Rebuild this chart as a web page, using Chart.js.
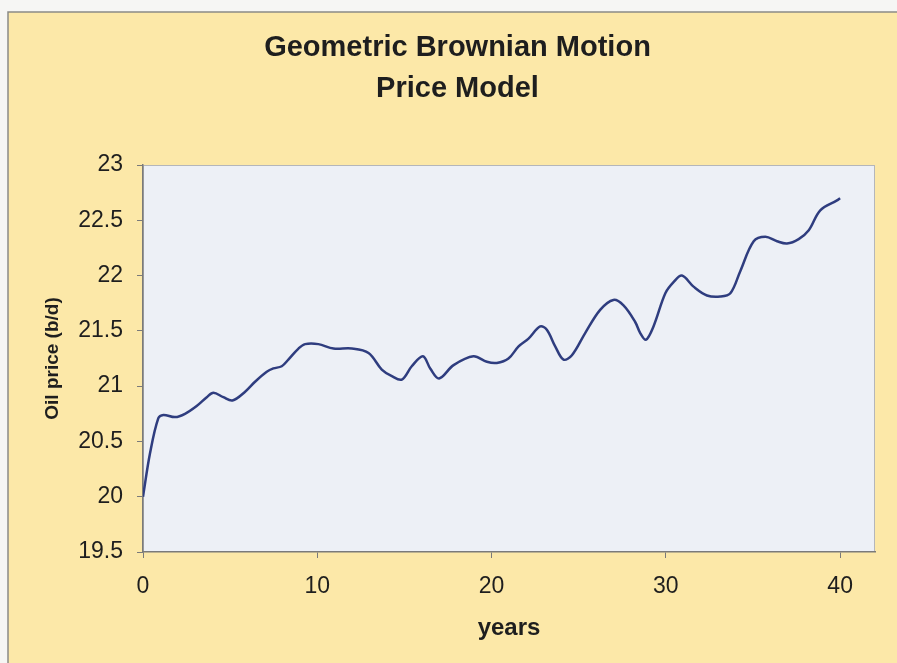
<!DOCTYPE html>
<html>
<head>
<meta charset="utf-8">
<script src="https://cdn.jsdelivr.net/npm/chart.js@4/dist/chart.umd.min.js"></script>
<style>
  html, body { margin: 0; padding: 0; background: #f6f6f4; }
  #c { display: block; }
</style>
</head>
<body>
<canvas id="c" width="897" height="663"></canvas>
<script>
// ---- data ----
const chartTitle = ['Geometric Brownian Motion', 'Price Model'];
const xAxisTitle = 'years';
const yAxisTitle = 'Oil price (b/d)';
const xTickValues = [0, 10, 20, 30, 40];
const yTickValues = [19.5, 20, 20.5, 21, 21.5, 22, 22.5, 23];
const years = [0, 0.4, 0.88, 1.17, 1.84, 2.41, 3.08, 3.66, 4.04, 4.61, 5.13, 5.86, 6.43, 7.10, 7.48, 7.96, 8.34, 8.92, 9.30, 10.06,
  10.93, 11.98, 12.94, 13.70, 14.28, 14.85, 15.42, 16.06, 16.48, 16.99, 17.82, 18.96, 19.73, 20.30, 20.97, 21.55, 22.12, 22.79,
  23.17, 23.65, 24.13, 24.61, 25.37, 26.23, 26.99, 27.57, 28.24, 28.53, 28.86, 29.29, 29.97, 30.44, 30.92, 31.59, 32.36, 33.12,
  33.70, 34.27, 35.04, 35.71, 36.38, 36.95, 37.62, 38.20, 38.86, 39.82, 40];
const prices = [20.0, 20.39, 20.71, 20.74, 20.72, 20.75, 20.82, 20.90, 20.94, 20.90, 20.87, 20.95, 21.04, 21.13, 21.16, 21.18, 21.24, 21.34, 21.38, 21.38,
  21.34, 21.34, 21.30, 21.15, 21.09, 21.06, 21.18, 21.27, 21.16, 21.07, 21.19, 21.27, 21.22, 21.21, 21.25, 21.36, 21.43, 21.54,
  21.51, 21.36, 21.24, 21.28, 21.48, 21.69, 21.78, 21.73, 21.58, 21.48, 21.42, 21.54, 21.84, 21.94, 22.00, 21.90, 21.82, 21.81,
  21.84, 22.04, 22.31, 22.35, 22.31, 22.29, 22.33, 22.41, 22.59, 22.68, 22.70];

const points = years.map((x, i) => ({ x: x, y: prices[i] }));

const bgPlugin = {
  id: 'bgPlugin',
  beforeDraw(chart) {
    const ctx = chart.ctx;
    const W = chart.width, H = chart.height;
    ctx.save();
    ctx.fillStyle = '#f6f6f4';
    ctx.fillRect(0, 0, W, H);
    ctx.fillStyle = '#fce8a8';
    ctx.fillRect(8, 12, W - 8, H - 12);
    ctx.strokeStyle = '#8a8a86';
    ctx.lineWidth = 1.5;
    ctx.beginPath();
    ctx.moveTo(8, H);
    ctx.lineTo(8, 12);
    ctx.lineTo(W, 12);
    ctx.stroke();
    const a = chart.chartArea;
    ctx.fillStyle = '#edf0f6';
    ctx.fillRect(a.left, a.top, a.right - a.left, a.bottom - a.top);
    ctx.strokeStyle = '#b4b6ba';
    ctx.lineWidth = 1;
    ctx.strokeRect(a.left + 0.5, a.top + 0.5, a.right - a.left - 1, a.bottom - a.top - 1);
    ctx.restore();
  }
};

new Chart(document.getElementById('c'), {
  type: 'scatter',
  data: {
    datasets: [{
      data: points,
      showLine: true,
      borderColor: '#2f3d7f',
      borderWidth: 2.5,
      pointRadius: 0,
      tension: 0.35,
      fill: false
    }]
  },
  options: {
    responsive: false,
    animation: false,
    devicePixelRatio: 1,
    layout: { padding: { left: 40, right: 22, top: 0, bottom: 0 } },
    plugins: {
      legend: { display: false },
      tooltip: { enabled: false },
      title: {
        display: true,
        text: chartTitle,
        color: '#1e1e1e',
        font: { family: '"Liberation Sans", Arial, sans-serif', size: 29, weight: 'bold', lineHeight: '41px' },
        padding: { top: 27, bottom: 56 }
      }
    },
    scales: {
      x: {
        type: 'linear',
        min: 0,
        max: 42,
        afterBuildTicks: (s) => { s.ticks = xTickValues.map(v => ({ value: v })); },
        afterFit: (s) => { s.height = 111; },
        grid: { display: true, drawOnChartArea: false, tickLength: 6, tickColor: '#7a7a7a' },
        border: { display: true, color: '#7a7a7a', width: 1.5 },
        ticks: {
          color: '#1e1e1e',
          padding: 15,
          maxRotation: 0,
          font: { family: '"Liberation Sans", Arial, sans-serif', size: 23 },
          callback: (v) => String(v)
        },
        title: {
          display: true,
          text: xAxisTitle,
          color: '#1e1e1e',
          font: { family: '"Liberation Sans", Arial, sans-serif', size: 24, weight: 'bold' },
          padding: { top: 0, bottom: 20 }
        }
      },
      y: {
        type: 'linear',
        min: 19.5,
        max: 23,
        afterBuildTicks: (s) => { s.ticks = yTickValues.map(v => ({ value: v })); },
        afterFit: (s) => { s.width = 103; },
        grid: { display: true, drawOnChartArea: false, tickLength: 6, tickColor: '#7a7a7a' },
        border: { display: true, color: '#7a7a7a', width: 1.5 },
        ticks: {
          color: '#1e1e1e',
          padding: 14,
          font: { family: '"Liberation Sans", Arial, sans-serif', size: 23 },
          callback: (v) => String(v)
        },
        title: {
          display: true,
          text: yAxisTitle,
          color: '#1e1e1e',
          font: { family: '"Liberation Sans", Arial, sans-serif', size: 19, weight: 'bold' },
          padding: { top: 1, bottom: 0 }
        }
      }
    }
  },
  plugins: [bgPlugin]
});
</script>
</body>
</html>
